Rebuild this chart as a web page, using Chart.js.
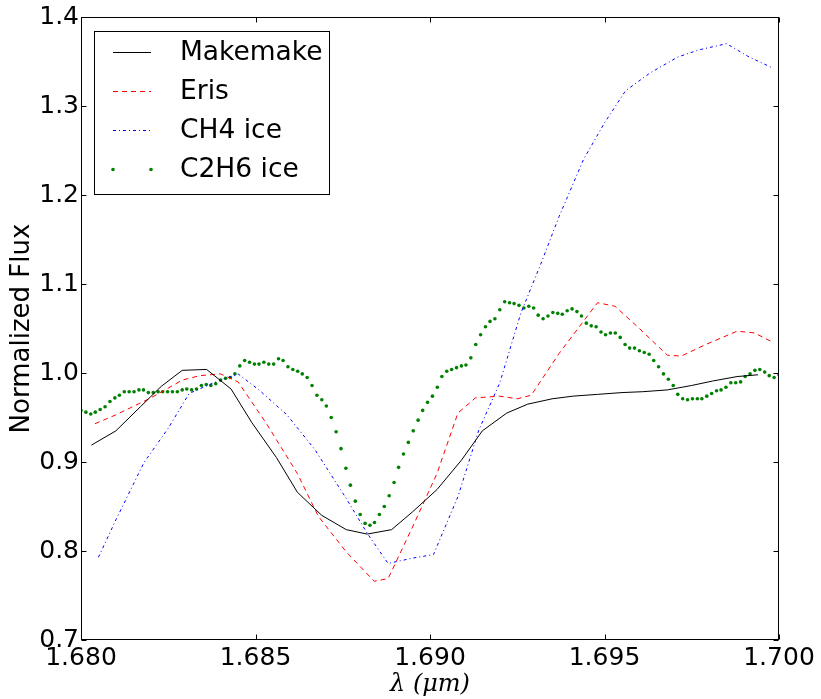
<!DOCTYPE html>
<html>
<head>
<meta charset="utf-8">
<script src="https://cdn.jsdelivr.net/npm/chart.js@4/dist/chart.umd.min.js"></script>
<style>
  html, body { margin: 0; padding: 0; background: #ffffff; }
  #wrap { width: 821px; height: 699px; }
</style>
</head>
<body>
<div id="wrap"><canvas id="c" width="821" height="699"></canvas></div>
<script>
// Makemake spectrum
const makemakeWave = [1.6803, 1.6810, 1.6817, 1.6823, 1.6829, 1.6836, 1.6843, 1.6849, 1.6856, 1.6862,
  1.6869, 1.6876, 1.6882, 1.6889, 1.6895, 1.6902, 1.6909, 1.6915, 1.6922, 1.6928,
  1.6935, 1.6941, 1.6948, 1.6955, 1.6961, 1.6968, 1.6975, 1.6981, 1.6988, 1.6994];
const makemakeFlux = [0.919, 0.935, 0.962, 0.985, 1.003, 1.004, 0.982, 0.944, 0.905, 0.866,
  0.840, 0.824, 0.819, 0.824, 0.844, 0.869, 0.902, 0.935, 0.955, 0.965,
  0.971, 0.974, 0.976, 0.978, 0.979, 0.981, 0.986, 0.991, 0.996, 0.998];

// Eris spectrum
const erisWave = [1.6804, 1.6810, 1.6820, 1.6829, 1.6834, 1.6840, 1.6845, 1.6853, 1.6862, 1.6868,
  1.6876, 1.6884, 1.6888, 1.6895, 1.6902, 1.6908, 1.6913, 1.6920, 1.6925, 1.6929,
  1.6937, 1.6948, 1.6953, 1.6960, 1.6968, 1.6972, 1.6979, 1.6988, 1.6993, 1.6998];
const erisFlux = [0.943, 0.953, 0.972, 0.992, 0.997, 0.999, 0.990, 0.944, 0.887, 0.839,
  0.799, 0.766, 0.769, 0.827, 0.887, 0.955, 0.972, 0.974, 0.971, 0.975,
  1.022, 1.079, 1.075, 1.050, 1.020, 1.019, 1.032, 1.047, 1.045, 1.035];

// Laboratory CH4 ice
const ch4Wave = [1.6805, 1.6810, 1.6818, 1.6825, 1.6831, 1.6838, 1.6845, 1.6851, 1.6859, 1.6867,
  1.6876, 1.6882, 1.6888, 1.6895, 1.6901, 1.6908, 1.6914, 1.6920, 1.6926, 1.6932,
  1.6937, 1.6944, 1.6950, 1.6956, 1.6963, 1.6971, 1.6977, 1.6985, 1.6991, 1.6998];
const ch4Flux = [0.793, 0.835, 0.899, 0.938, 0.977, 0.989, 0.999, 0.981, 0.953, 0.914,
  0.859, 0.820, 0.786, 0.792, 0.796, 0.861, 0.936, 0.989, 1.067, 1.125,
  1.176, 1.240, 1.281, 1.317, 1.337, 1.355, 1.363, 1.370, 1.356, 1.343];

// Laboratory C2H6 ice
const c2h6Wave = [1.68000, 1.68014, 1.68028, 1.68041, 1.68055, 1.68069, 1.68083, 1.68097, 1.68110, 1.68124,
  1.68138, 1.68152, 1.68166, 1.68179, 1.68193, 1.68207, 1.68221, 1.68234, 1.68248, 1.68262,
  1.68276, 1.68290, 1.68303, 1.68317, 1.68331, 1.68345, 1.68359, 1.68372, 1.68386, 1.68400,
  1.68414, 1.68428, 1.68441, 1.68455, 1.68469, 1.68483, 1.68497, 1.68510, 1.68524, 1.68538,
  1.68552, 1.68566, 1.68579, 1.68593, 1.68607, 1.68621, 1.68634, 1.68648, 1.68662, 1.68676,
  1.68690, 1.68703, 1.68717, 1.68731, 1.68745, 1.68759, 1.68772, 1.68786, 1.68800, 1.68814,
  1.68828, 1.68841, 1.68855, 1.68869, 1.68883, 1.68897, 1.68910, 1.68924, 1.68938, 1.68952,
  1.68966, 1.68979, 1.68993, 1.69007, 1.69021, 1.69034, 1.69048, 1.69062, 1.69076, 1.69090,
  1.69103, 1.69117, 1.69131, 1.69145, 1.69159, 1.69172, 1.69186, 1.69200, 1.69214, 1.69228,
  1.69241, 1.69255, 1.69269, 1.69283, 1.69297, 1.69310, 1.69324, 1.69338, 1.69352, 1.69366,
  1.69379, 1.69393, 1.69407, 1.69421, 1.69434, 1.69448, 1.69462, 1.69476, 1.69490, 1.69503,
  1.69517, 1.69531, 1.69545, 1.69559, 1.69572, 1.69586, 1.69600, 1.69614, 1.69628, 1.69641,
  1.69655, 1.69669, 1.69683, 1.69697, 1.69710, 1.69724, 1.69738, 1.69752, 1.69766, 1.69779,
  1.69793, 1.69807, 1.69821, 1.69834, 1.69848, 1.69862, 1.69876, 1.69890, 1.69903, 1.69917,
  1.69931, 1.69945, 1.69959, 1.69972, 1.69986, 1.70000];
const c2h6Flux = [0.958, 0.956, 0.954, 0.956, 0.959, 0.962, 0.968, 0.972, 0.975, 0.979,
  0.979, 0.979, 0.981, 0.981, 0.978, 0.978, 0.979, 0.979, 0.979, 0.979,
  0.979, 0.981, 0.982, 0.981, 0.982, 0.986, 0.987, 0.986, 0.988, 0.992,
  0.994, 0.995, 0.999, 1.008, 1.014, 1.012, 1.010, 1.010, 1.012, 1.010,
  1.010, 1.016, 1.014, 1.007, 1.004, 1.002, 0.999, 0.995, 0.986, 0.975,
  0.970, 0.963, 0.950, 0.934, 0.915, 0.893, 0.874, 0.856, 0.841, 0.831,
  0.829, 0.832, 0.841, 0.850, 0.862, 0.877, 0.894, 0.909, 0.922, 0.935,
  0.947, 0.958, 0.967, 0.974, 0.984, 0.996, 1.002, 1.004, 1.006, 1.008,
  1.009, 1.017, 1.032, 1.043, 1.052, 1.058, 1.061, 1.071, 1.080, 1.079,
  1.078, 1.076, 1.073, 1.075, 1.073, 1.065, 1.061, 1.064, 1.068, 1.067,
  1.066, 1.070, 1.072, 1.069, 1.064, 1.056, 1.053, 1.052, 1.046, 1.043,
  1.045, 1.045, 1.040, 1.032, 1.028, 1.028, 1.025, 1.023, 1.021, 1.014,
  1.007, 0.999, 0.993, 0.986, 0.976, 0.971, 0.970, 0.971, 0.971, 0.971,
  0.974, 0.977, 0.980, 0.981, 0.984, 0.989, 0.989, 0.990, 0.996, 0.999,
  1.003, 1.004, 1.001, 0.997, 0.995, 0.998];

const seriesLabels = ['Makemake', 'Eris', 'CH4 ice', 'C2H6 ice'];

const xTickValues = [1.680, 1.685, 1.690, 1.695, 1.700];
const xTickLabels = ['1.680', '1.685', '1.690', '1.695', '1.700'];
const yTickValues = [0.7, 0.8, 0.9, 1.0, 1.1, 1.2, 1.3, 1.4];
const yTickLabels = ['0.7', '0.8', '0.9', '1.0', '1.1', '1.2', '1.3', '1.4'];

const pairs = (xs, ys) => xs.map((x, i) => ({ x: x, y: ys[i] }));

const FONT = 'DejaVu Sans';
const TICK_LEN = 5;

// Frame on all four sides with inward-pointing ticks
const framePlugin = {
  id: 'frame',
  afterDraw(chart) {
    const { ctx, chartArea: a, scales } = chart;
    const L = Math.round(a.left) + 0.5, R = Math.round(a.right) - 0.5;
    const T = Math.round(a.top) + 0.5, B = Math.round(a.bottom) - 0.5;
    ctx.save();
    ctx.strokeStyle = '#000';
    ctx.lineWidth = 1;
    ctx.strokeRect(L, T, R - L, B - T);
    ctx.beginPath();
    xTickValues.forEach(v => {
      const px = Math.round(scales.x.getPixelForValue(v)) + 0.5;
      ctx.moveTo(px, B); ctx.lineTo(px, B - TICK_LEN);
      ctx.moveTo(px, T); ctx.lineTo(px, T + TICK_LEN);
    });
    yTickValues.forEach(v => {
      const py = Math.round(scales.y.getPixelForValue(v)) + 0.5;
      ctx.moveTo(L, py); ctx.lineTo(L + TICK_LEN, py);
      ctx.moveTo(R, py); ctx.lineTo(R - TICK_LEN, py);
    });
    ctx.stroke();
    ctx.restore();
  }
};

// Boxed legend in the upper left corner of the plot
const legendPlugin = {
  id: 'boxLegend',
  afterDraw(chart) {
    const { ctx, chartArea: a } = chart;
    const bx = a.left + 13.5, by = a.top + 14.5, bw = 235, bh = 163;
    ctx.save();
    ctx.fillStyle = '#fff';
    ctx.fillRect(bx, by, bw, bh);
    ctx.strokeStyle = '#000';
    ctx.lineWidth = 1;
    ctx.strokeRect(bx, by, bw, bh);
    const x0 = a.left + 32, x1 = a.left + 70, tx = a.left + 99;
    const rows = [a.top + 35, a.top + 74, a.top + 113, a.top + 152];
    chart.data.datasets.forEach((ds, i) => {
      const y = Math.round(rows[i]) + 0.5;
      if (ds.showLine) {
        ctx.save();
        ctx.strokeStyle = ds.borderColor;
        ctx.lineWidth = ds.borderWidth;
        ctx.setLineDash(ds.borderDash || []);
        ctx.beginPath();
        ctx.moveTo(x0, y); ctx.lineTo(x1, y);
        ctx.stroke();
        ctx.restore();
      } else {
        ctx.fillStyle = ds.backgroundColor;
        [x0, x1].forEach(px => {
          ctx.beginPath();
          ctx.arc(px, y, ds.pointRadius, 0, Math.PI * 2);
          ctx.fill();
        });
      }
      ctx.fillStyle = '#000';
      ctx.font = '26.5px "' + FONT + '"';
      ctx.textAlign = 'left';
      ctx.textBaseline = 'middle';
      ctx.fillText(ds.label, tx, y + 1);
    });
    ctx.restore();
  }
};

new Chart(document.getElementById('c'), {
  type: 'scatter',
  data: {
    datasets: [
      { label: seriesLabels[0], data: pairs(makemakeWave, makemakeFlux), showLine: true,
        borderColor: '#000000', borderWidth: 1, pointRadius: 0, tension: 0 },
      { label: seriesLabels[1], data: pairs(erisWave, erisFlux), showLine: true,
        borderColor: '#ff0000', borderWidth: 1, borderDash: [5, 4], pointRadius: 0, tension: 0 },
      { label: seriesLabels[2], data: pairs(ch4Wave, ch4Flux), showLine: true,
        borderColor: '#0000ff', borderWidth: 1, borderDash: [3, 3, 1, 3], pointRadius: 0, tension: 0 },
      { label: seriesLabels[3], data: pairs(c2h6Wave, c2h6Flux), showLine: false,
        backgroundColor: '#008000', borderWidth: 0, pointRadius: 1.8, pointStyle: 'circle' }
    ]
  },
  options: {
    responsive: false,
    devicePixelRatio: 1,
    animation: false,
    layout: { padding: { left: 0, right: 42, top: 17, bottom: 0 } },
    plugins: { legend: { display: false }, tooltip: { enabled: false } },
    scales: {
      x: {
        type: 'linear', min: 1.680, max: 1.700,
        afterBuildTicks: s => { s.ticks = xTickValues.map(v => ({ value: v })); },
        afterFit: s => { s.height = 59; },
        grid: { display: false, drawTicks: false },
        border: { display: false },
        ticks: {
          autoSkip: false, maxRotation: 0, padding: 3, color: '#000',
          font: { family: FONT, size: 25 },
          callback: (v, i) => xTickLabels[i]
        },
        title: {
          display: true, text: 'λ (μm)', color: '#000',
          font: { family: 'DejaVu Serif', size: 24, style: 'italic', lineHeight: 1.2 },
          padding: { top: 0, bottom: 0 }
        }
      },
      y: {
        type: 'linear', min: 0.7, max: 1.4,
        afterBuildTicks: s => { s.ticks = yTickValues.map(v => ({ value: v })); },
        afterFit: s => { s.width = 81; },
        grid: { display: false, drawTicks: false },
        border: { display: false },
        ticks: {
          autoSkip: false, padding: 2, color: '#000',
          font: { family: FONT, size: 25 },
          callback: (v, i) => yTickLabels[i]
        },
        title: {
          display: true, text: 'Normalized Flux', color: '#000',
          font: { family: FONT, size: 26, lineHeight: 1.2 },
          padding: { top: 7, bottom: 0 }
        }
      }
    }
  },
  plugins: [framePlugin, legendPlugin]
});
</script>
</body>
</html>
